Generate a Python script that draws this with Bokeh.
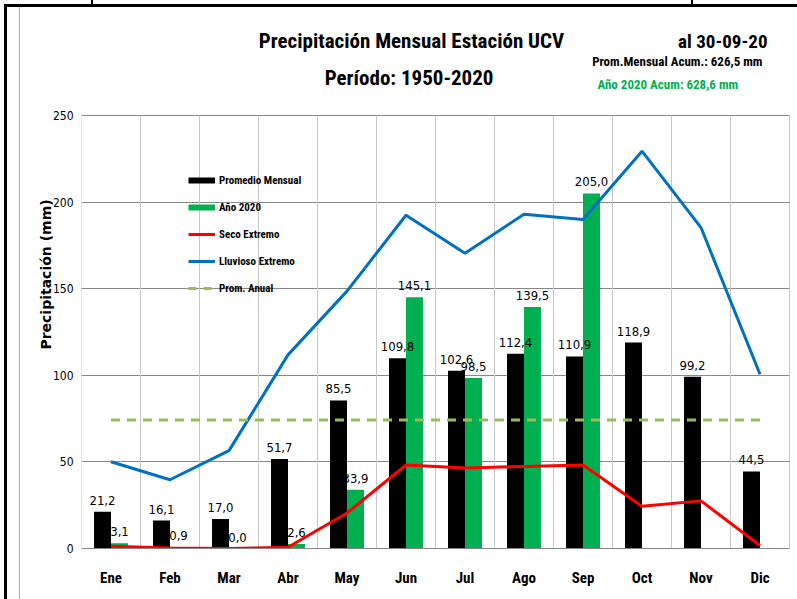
from bokeh.plotting import figure
from bokeh.models import (ColumnDataSource, Label, Legend, LegendItem, FixedTicker, Range1d)
from bokeh.transform import dodge
from bokeh.core.properties import value
from bokeh.embed import file_html
from bokeh.resources import INLINE
import numpy as np

# ---------------- data ----------------
meses = ["Ene", "Feb", "Mar", "Abr", "May", "Jun", "Jul", "Ago", "Sep", "Oct", "Nov", "Dic"]
promedio_mensual = [21.2, 16.1, 17.0, 51.7, 85.5, 109.8, 102.6, 112.4, 110.9, 118.9, 99.2, 44.5]
anio_2020 = [3.1, 0.9, 0.0, 2.6, 33.9, 145.1, 98.5, 139.5, 205.0, None, None, None]
seco_extremo = [1.3, 0.3, 0.0, 0.7, 20.5, 48.2, 46.5, 47.4, 48.2, 24.4, 27.5, 1.7]
lluvioso_extremo = [50.1, 39.7, 56.5, 111.8, 148.6, 192.4, 170.5, 193.0, 190.0, 229.4, 185.3, 100.6]
y_ticks = [0, 50, 100, 150, 200, 250]
titulo = "Precipitación Mensual Estación UCV"
subtitulo = "Período:  1950-2020"
fecha = "al 30-09-20"
acum_prom = "Prom.Mensual  Acum.: 626,5 mm"
acum_2020 = "Año 2020 Acum: 628,6 mm"

NARROW_A = "Roboto Condensed"
NARROW_B = "DejaVu Sans Condensed"
WIDE = "DejaVu Sans"

def fmt(v):
    return f"{v:.1f}".replace(".", ",")

n = len(meses)
xc = [i + 0.5 for i in range(n)]
prom_anual = float(np.mean(promedio_mensual))
y_max = y_ticks[-1]

# ---------------- layout (pixels) ----------------
W, H = 797, 599
LEFT, RIGHT, BOTTOM = 81, 8, 51
PLOT_TOP = 115                      # canvas y of the 250 line
FRAME_H = H - BOTTOM                # frame runs from canvas top to the x axis
PX_Y = (FRAME_H - PLOT_TOP) / y_max
PX_X = (W - LEFT - RIGHT) / n

def ux(px):
    return (px - LEFT) / PX_X

def uy(py):
    return (FRAME_H - py) / PX_Y

src = ColumnDataSource(dict(
    x=xc,
    prom=promedio_mensual,
    prom_txt=[fmt(v) for v in promedio_mensual],
    anio=[np.nan if v is None else v for v in anio_2020],
    seco=seco_extremo,
    lluv=lluvioso_extremo,
))
idx = [i for i, v in enumerate(anio_2020) if v is not None]
src_anio_txt = ColumnDataSource(dict(
    x=[xc[i] for i in idx],
    y=[anio_2020[i] for i in idx],
    t=[fmt(anio_2020[i]) for i in idx],
))

p = figure(width=W, height=H, x_range=Range1d(0, n), y_range=Range1d(0, FRAME_H / PX_Y),
           output_backend="svg", toolbar_location=None,
           min_border_left=LEFT, min_border_right=RIGHT, min_border_top=0,
           min_border_bottom=BOTTOM,
           background_fill_alpha=0, border_fill_alpha=0)
p.outline_line_color = None

# decorative cell borders behind the (transparent) canvas
p.styles = {
    "background": ("linear-gradient(#000,#000) 4px 4px/100% 3px no-repeat, "
                   "linear-gradient(#000,#000) 4px 4px/3px 100% no-repeat, "
                   "linear-gradient(#000,#000) 91px 0/2px 5px no-repeat, "
                   "linear-gradient(#000,#000) 691px 0/2px 5px no-repeat, "
                   "linear-gradient(#a6a6a6,#a6a6a6) 19px 7px/1px 100% no-repeat, white"),
}

# vertical grid lines at the month boundaries (only over the plot area)
bounds = list(range(n + 1))
p.segment(x0=bounds[:-1], y0=[0] * n, x1=bounds[:-1], y1=[y_max] * n,
          line_color="#c8c8c8", line_width=1)
p.segment(x0=[bounds[-1]], y0=[0], x1=[bounds[-1]], y1=[y_max],
          line_color="#888888", line_width=1)

BW = 0.288
p.vbar(x=dodge("x", -BW / 2), top="prom", width=BW, source=src,
       fill_color="black", line_color=None)
p.vbar(x=dodge("x", BW / 2), top="anio", width=BW, source=src,
       fill_color="#00b050", line_color=None)

lbl_kw = dict(text_align="center", text_baseline="bottom", y_offset=-7,
              text_font=value(NARROW_B), text_font_size="13px", text_color="black")
p.text(x=dodge("x", -BW / 2), y="prom", text="prom_txt", source=src, **lbl_kw)
p.text(x=dodge("x", BW / 2), y="y", text="t", source=src_anio_txt, **lbl_kw)

r_seco = p.line(x="x", y="seco", source=src, line_color="#ff0000", line_width=3)
r_lluv = p.line(x="x", y="lluv", source=src, line_color="#0070c0", line_width=3)
r_anual = p.line(x=[xc[0], xc[-1]], y=[prom_anual, prom_anual], line_color="#9bbb59",
                 line_width=3, line_dash="9 7")

# legend proxies for the bars
r1 = p.line(x=[np.nan], y=[np.nan], line_color="black", line_width=6)
r2 = p.line(x=[np.nan], y=[np.nan], line_color="#00b050", line_width=6)
r5 = p.line(x=[np.nan], y=[np.nan], line_color="#9bbb59", line_width=3, line_dash="8 7")
legend = Legend(items=[
    LegendItem(label="Promedio Mensual", renderers=[r1]),
    LegendItem(label="Año 2020", renderers=[r2]),
    LegendItem(label="Seco Extremo", renderers=[r_seco]),
    LegendItem(label="Lluvioso Extremo", renderers=[r_lluv]),
    LegendItem(label="Prom. Anual", renderers=[r5]),
], location=(107, 253), glyph_width=27, glyph_height=14, label_height=14,
    label_standoff=4, spacing=13, padding=0, border_line_color=None,
    background_fill_alpha=0, label_text_font=NARROW_A, label_text_font_size="11px",
    label_text_font_style="bold", label_text_color="black")
p.add_layout(legend)

# axes
p.xaxis.ticker = FixedTicker(ticks=xc)
p.xaxis.major_label_overrides = {x: m for x, m in zip(xc, meses)}
p.xaxis.major_label_text_font = NARROW_A
p.xaxis.major_label_text_font_style = "bold"
p.xaxis.major_label_text_font_size = "15px"
p.xaxis.major_label_text_color = "black"
p.xaxis.major_label_standoff = 14
p.xaxis.axis_line_color = "#888888"
p.xaxis.major_tick_line_color = None
p.xaxis.minor_tick_line_color = None

p.yaxis.ticker = FixedTicker(ticks=y_ticks)
p.yaxis.bounds = (0, y_max)
p.yaxis.major_label_text_font = NARROW_B
p.yaxis.major_label_text_font_size = "12px"
p.yaxis.major_label_text_color = "black"
p.yaxis.major_label_standoff = 2
p.yaxis.axis_line_color = None
p.yaxis.major_tick_line_color = None
p.yaxis.minor_tick_line_color = None
p.yaxis.axis_label = "Precipitación (mm)"
p.yaxis.axis_label_text_font = WIDE
p.yaxis.axis_label_text_font_style = "bold"
p.yaxis.axis_label_text_font_size = "14px"
p.yaxis.axis_label_text_color = "black"
p.yaxis.axis_label_standoff = -4

p.xgrid.visible = False
p.ygrid.ticker = FixedTicker(ticks=y_ticks)
p.ygrid.grid_line_color = "#888888"

# titles
def lab(text, px, py, size, align, color="black"):
    p.add_layout(Label(x=ux(px), y=uy(py), text=text,
                       text_font=NARROW_A, text_font_style="bold", text_font_size=size,
                       text_align=align, text_baseline="middle", text_color=color))

lab(titulo, 411, 40, "21px", "center")
lab(subtitulo, 411, 77, "21px", "center")
lab(fecha, 767, 41, "19px", "right")
lab(acum_prom, 765, 61, "13px", "right")
lab(acum_2020, 597, 84, "13px", "left", "#00b050")

open("out.html", "w").write(file_html(p, INLINE))
